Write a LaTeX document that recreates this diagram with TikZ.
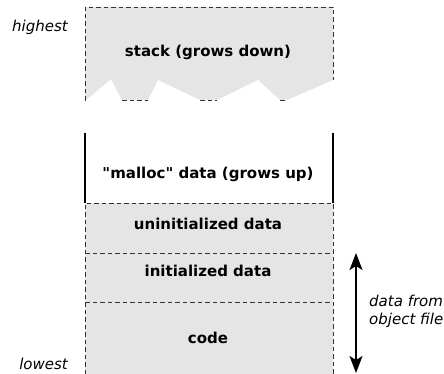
\documentclass[tikz,border=0pt]{standalone}
\usepackage{fontspec}
\newfontfamily\dvs{DejaVu Sans}
\usetikzlibrary{arrows.meta}
\definecolor{segfill}{HTML}{E5E5E5}
\tikzset{
  seglabel/.style={font=\dvs\bfseries\fontsize{15}{17}\selectfont, inner sep=0pt},
  sidelabel/.style={font=\dvs\itshape\fontsize{15}{18}\selectfont, inner sep=0pt},
  segborder/.style={dash pattern=on 4.5pt off 3pt, line width=0.7pt, black!80},
  solidside/.style={line width=1.5pt, black},
  bigarrow/.style={line width=1.5pt, {Stealth[length=17pt,width=13pt,inset=4pt]}-{Stealth[length=17pt,width=13pt,inset=4pt]}}
}
\begin{document}
\begin{tikzpicture}[x=1pt,y=-1pt]
\useasboundingbox (0,0) rectangle (444,374);
% stack
\fill[segfill] (85,7) -- (333,7) -- (333,80) -- (287,100) -- (280,100) -- (258,80) -- (217,100) -- (200,100) -- (158,80) -- (148,100) -- (122,100) -- (111,79) -- (85,101) -- cycle;
\draw[segborder] (85,101) -- (85,7) -- (333,7) -- (333,80);
\draw[segborder] (122,100) -- (148,100);
\draw[segborder] (200,100) -- (217,100);
\draw[segborder] (280,100) -- (287,100);
% malloc
\draw[solidside] (85,133) -- (85,203);
\draw[solidside] (333,133) -- (333,203);
% lower grey block
\fill[segfill] (85,203) rectangle (333,374);
\draw[segborder] (85,374) -- (85,203) -- (333,203) -- (333,374);
\draw[segborder] (85,253) -- (333,253);
\draw[segborder] (85,302) -- (333,302);
% labels
\node[seglabel] (stack) at (208,52) {stack (grows down)};
\node[seglabel] (malloc) at (208,174) {"malloc" data (grows up)};
\node[seglabel] (uninit) at (208,224) {uninitialized data};
\node[seglabel] (init) at (208,271) {initialized data};
\node[seglabel] (code) at (208,338) {code};
\node[sidelabel, anchor=east] (highest) at (68,27) {highest};
\node[sidelabel, anchor=east] (lowest) at (68,364) {lowest};
\node[sidelabel, anchor=west, align=left] (objfile) at (369,311) {data from\\object file};
\coordinate (atop) at (356,253);
\coordinate (abot) at (356,373);
\draw[bigarrow] (atop) -- (abot);
\end{tikzpicture}
\end{document}
